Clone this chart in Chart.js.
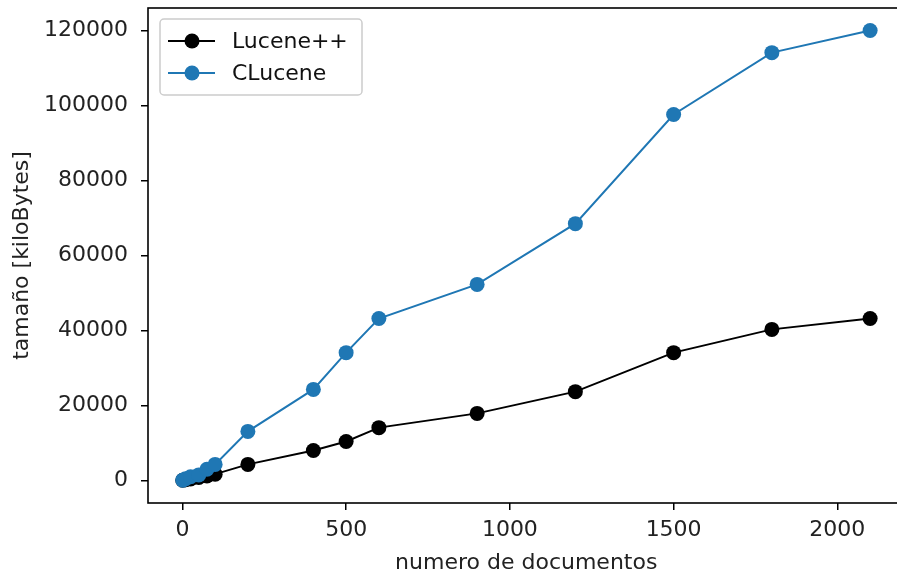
<!DOCTYPE html>
<html>
<head>
<meta charset="utf-8">
<script src="https://cdn.jsdelivr.net/npm/chart.js@4"></script>
<style>
  html, body { margin: 0; padding: 0; background: #fff; overflow: hidden; }
  #wrap { width: 912px; height: 576px; position: relative; }
</style>
</head>
<body>
<div id="wrap"><canvas id="mycanvas"></canvas></div>
<script>
// numero de documentos
var docs = [1, 10, 25, 50, 75, 100, 200, 400, 500, 600, 900, 1200, 1500, 1800, 2100];
var lucenepp = [50, 200, 400, 800, 1200, 1700, 4300, 8000, 10400, 14100, 17900, 23700, 34100, 40300, 43200];
var clucene = [100, 500, 1000, 1500, 3000, 4300, 13100, 24300, 34100, 43200, 52300, 68500, 97600, 114100, 120000];
var xTicks = [0, 500, 1000, 1500, 2000];
var yTicks = [0, 20000, 40000, 60000, 80000, 100000, 120000];

function pts(xs, ys) {
	var out = [];
	for (var i in xs) out.push({x: xs[i], y: ys[i]});
	return out;
}

var FONT = 'DejaVu Sans';
var FS = 22;

// marco de los ejes + leyenda dentro del area
var frame = {
	id: 'frame',
	afterDraw: function(chart) {
		var ctx = chart.ctx, a = chart.chartArea;
		ctx.save();
		ctx.strokeStyle = '#000';
		ctx.lineWidth = 1.6;
		ctx.strokeRect(a.left, a.top, a.right - a.left, a.bottom - a.top);

		// leyenda
		var x0 = 160, y0 = 19, w = 202, h = 76;
		ctx.beginPath();
		if (ctx.roundRect) ctx.roundRect(x0, y0, w, h, 4); else ctx.rect(x0, y0, w, h);
		ctx.fillStyle = 'rgba(255,255,255,0.8)';
		ctx.fill();
		ctx.strokeStyle = '#cccccc';
		ctx.lineWidth = 1.5;
		ctx.stroke();
		var rows = [41, 73];
		var ds = chart.data.datasets;
		ctx.font = FS + 'px "' + FONT + '"';
		ctx.textBaseline = 'middle';
		for (var i = 0; i < ds.length; i++) {
			var y = rows[i];
			ctx.strokeStyle = ds[i].borderColor;
			ctx.lineWidth = 2;
			ctx.beginPath();
			ctx.moveTo(168, y);
			ctx.lineTo(215, y);
			ctx.stroke();
			ctx.fillStyle = ds[i].backgroundColor;
			ctx.beginPath();
			ctx.arc(192, y, 7.5, 0, Math.PI * 2);
			ctx.fill();
			ctx.fillStyle = '#111';
			ctx.fillText(ds[i].label, 232, y + 1);
		}
		ctx.restore();
	}
};

var ctx = document.getElementById('mycanvas');
new Chart(ctx, {
	type: 'line',
	data: {
		datasets: [
			{
				label: 'Lucene++',
				data: pts(docs, lucenepp),
				borderColor: '#000000',
				backgroundColor: '#000000',
				borderWidth: 2,
				pointRadius: 7.5,
				pointBorderWidth: 0,
				order: 1
			},
			{
				label: 'CLucene',
				data: pts(docs, clucene),
				borderColor: '#1f77b4',
				backgroundColor: '#1f77b4',
				borderWidth: 2,
				pointRadius: 7.5,
				pointBorderWidth: 0,
				order: 0
			}
		]
	},
	options: {
		responsive: true,
		maintainAspectRatio: false,
		animation: false,
		layout: { padding: { top: 8, right: 3, left: 0, bottom: 0 } },
		plugins: { legend: { display: false }, tooltip: { enabled: false } },
		scales: {
			x: {
				type: 'linear',
				min: -105,
				max: 2205,
				afterFit: function(s) { s.height = 73; s.paddingLeft = 0; s.paddingRight = 0; },
				afterBuildTicks: function(s) { s.ticks = xTicks.map(function(v) { return {value: v}; }); },
				border: { display: false },
				grid: { drawOnChartArea: false, drawTicks: true, tickLength: 7, color: '#000', lineWidth: 1.5 },
				ticks: { color: '#222', padding: 7, font: { family: FONT, size: FS }, maxRotation: 0,
					callback: function(v) { return String(v); } },
				title: { display: true, text: 'numero de documentos', color: '#222', font: { family: FONT, size: FS }, padding: { top: 0, bottom: 0 } }
			},
			y: {
				type: 'linear',
				min: -6000,
				max: 126000,
				afterFit: function(s) { s.width = 148; s.paddingTop = 0; s.paddingBottom = 0; },
				afterBuildTicks: function(s) { s.ticks = yTicks.map(function(v) { return {value: v}; }); },
				border: { display: false },
				grid: { drawOnChartArea: false, drawTicks: true, tickLength: 7, color: '#000', lineWidth: 1.5 },
				ticks: { color: '#222', padding: 13, font: { family: FONT, size: FS },
					callback: function(v) { return String(v); } },
				title: { display: true, text: 'tamaño [kiloBytes]', color: '#222', font: { family: FONT, size: FS }, padding: { top: 9, bottom: 0 } }
			}
		}
	},
	plugins: [frame]
});
</script>
</body>
</html>
